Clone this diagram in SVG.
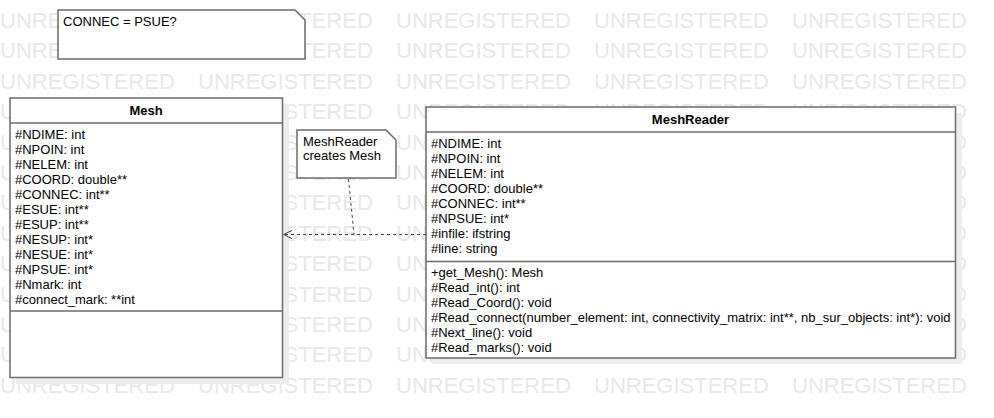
<svg xmlns="http://www.w3.org/2000/svg" width="994" height="418" viewBox="0 0 994 418">
<style>
.wm{font-family:"Liberation Sans",Arial,sans-serif;font-size:22px;fill:#e8e8e8}
.box{fill:#fff;stroke:#6b6b6b;stroke-width:1.5}
.shadow{fill:#ededed}
.sep{stroke:#6b6b6b;stroke-width:1.5}
.t{font-family:"Liberation Sans",Arial,sans-serif;font-size:13px;fill:#000}
.title{font-family:"Liberation Sans",Arial,sans-serif;font-size:13px;font-weight:bold;fill:#000;text-anchor:middle}
.dash{fill:none;stroke:#444;stroke-width:1;stroke-dasharray:3,3}
</style>
<defs>
<text id="wmrow" class="wm"><tspan x="0">UNREGISTERED</tspan><tspan x="198">UNREGISTERED</tspan><tspan x="396">UNREGISTERED</tspan><tspan x="594">UNREGISTERED</tspan><tspan x="792">UNREGISTERED</tspan></text>
</defs>
<rect width="994" height="418" fill="#fff"/>
<g id="watermark">
<use href="#wmrow" y="28"/>
<use href="#wmrow" y="58.4"/>
<use href="#wmrow" y="88.8"/>
<use href="#wmrow" y="119.2"/>
<use href="#wmrow" y="149.6"/>
<use href="#wmrow" y="180"/>
<use href="#wmrow" y="210.4"/>
<use href="#wmrow" y="240.8"/>
<use href="#wmrow" y="271.2"/>
<use href="#wmrow" y="301.6"/>
<use href="#wmrow" y="332"/>
<use href="#wmrow" y="362.4"/>
<use href="#wmrow" y="392.8"/>
</g>
<g id="note-connec">
<path class="box" d="M58,10 H295 L305,20 V59 H58 Z"/>
<text class="t" x="63" y="25.5">CONNEC = PSUE?</text>
</g>
<g id="mesh">
<rect class="shadow" x="16" y="104" width="273" height="280"/>
<rect class="box" x="10" y="98" width="272.5" height="279.5"/>
<line class="sep" x1="10" y1="123" x2="282.5" y2="123"/>
<line class="sep" x1="10" y1="311" x2="282.5" y2="311"/>
<text class="title" x="146" y="115">Mesh</text>
<text class="t" x="15" y="138.5">#NDIME: int</text>
<text class="t" x="15" y="153.5">#NPOIN: int</text>
<text class="t" x="15" y="168.5">#NELEM: int</text>
<text class="t" x="15" y="183.5">#COORD: double**</text>
<text class="t" x="15" y="198.5">#CONNEC: int**</text>
<text class="t" x="15" y="213.5">#ESUE: int**</text>
<text class="t" x="15" y="228.5">#ESUP: int**</text>
<text class="t" x="15" y="243.5">#NESUP: int*</text>
<text class="t" x="15" y="258.5">#NESUE: int*</text>
<text class="t" x="15" y="273.5">#NPSUE: int*</text>
<text class="t" x="15" y="288.5">#Nmark: int</text>
<text class="t" x="15" y="303.5">#connect_mark: **int</text>
</g>
<g id="meshreader">
<rect class="shadow" x="432" y="113" width="530" height="251"/>
<rect class="box" x="426" y="107" width="529.5" height="251"/>
<line class="sep" x1="426" y1="132" x2="955.5" y2="132"/>
<line class="sep" x1="426" y1="261.5" x2="955.5" y2="261.5"/>
<text class="title" x="690.5" y="124">MeshReader</text>
<text class="t" x="431" y="148">#NDIME: int</text>
<text class="t" x="431" y="163">#NPOIN: int</text>
<text class="t" x="431" y="178">#NELEM: int</text>
<text class="t" x="431" y="193">#COORD: double**</text>
<text class="t" x="431" y="208">#CONNEC: int**</text>
<text class="t" x="431" y="223">#NPSUE: int*</text>
<text class="t" x="431" y="238">#infile: ifstring</text>
<text class="t" x="431" y="253">#line: string</text>
<text class="t" x="431" y="277">+get_Mesh(): Mesh</text>
<text class="t" x="431" y="292">#Read_int(): int</text>
<text class="t" x="431" y="307">#Read_Coord(): void</text>
<text class="t" x="431" y="322">#Read_connect(number_element: int, connectivity_matrix: int**, nb_sur_objects: int*): void</text>
<text class="t" x="431" y="337">#Next_line(): void</text>
<text class="t" x="431" y="352">#Read_marks(): void</text>
</g>
<g id="note-creates">
<path class="box" d="M297,130 H386 L396,140 V178 H297 Z"/>
<text class="t" x="303" y="146">MeshReader</text>
<text class="t" x="303" y="159.5">creates Mesh</text>
</g>
<g id="connectors">
<path class="dash" d="M426,234.5 H284"/>
<path fill="none" stroke="#444" stroke-width="1" d="M292,230.5 L283.5,234.5 L292,238.5"/>
<path class="dash" d="M348.5,179 L354,234.5"/>
</g>
</svg>
